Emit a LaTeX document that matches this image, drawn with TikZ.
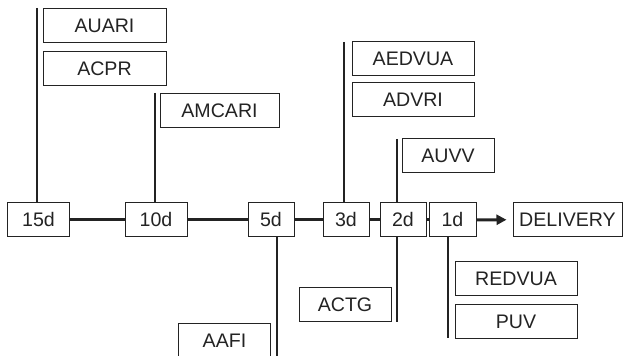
\documentclass[tikz,border=0pt]{standalone}
\usepackage{fontspec}
\setmainfont{Liberation Sans}
\usetikzlibrary{arrows.meta,positioning}
\definecolor{inkGray}{RGB}{35,35,35}

\begin{document}
\begin{tikzpicture}[
  x=0.5pt, y=-0.5pt,
  day/.style={rectangle, draw=inkGray, line width=0.5pt,
              minimum width=#1, minimum height=17pt, inner sep=0pt,
              text=inkGray, font=\fontsize{9.8}{12}\selectfont},
  task/.style={day=#1},
  timeline/.style={line width=1.5pt, inkGray},
  stem/.style={line width=0.7pt, inkGray},
  node distance=4pt
]
  \useasboundingbox (0,0) rectangle (623,356);
  \clip (0,0) rectangle (623,356);

  % Time axis
  \node[day=30.5pt] (d15) at (38.5,220) {15d};
  \node[day=31pt]   (d10) at (156,220)  {10d};
  \node[day=23pt]   (d5)  at (271,220)  {5d};
  \node[day=23pt]   (d3)  at (346,220)  {3d};
  \node[day=23pt]   (d2)  at (403,220)  {2d};
  \node[day=23.5pt] (d1)  at (452.5,220) {1d};
  \node[day=54.5pt] (dlv) at (567.5,219.5) {DELIVERY};

  \foreach \a/\b in {d15/d10, d10/d5, d5/d3, d3/d2, d2/d1}
    \draw[timeline] (\a) -- (\b);
  \draw[timeline, -{Triangle[length=5pt,width=5pt]}, shorten >=3pt]
    (d1) -- (dlv);

  % Tasks above the axis
  \node[task=61.5pt] (auari) at (104.5,25.5) {AUARI};
  \node[task=61.5pt, below=of auari] (acpr) {ACPR};
  \node[task=59.5pt] (amcari) at (219.5,110.5) {AMCARI};
  \node[task=61pt] (aedvua) at (413,59) {AEDVUA};
  \node[task=61pt, below=3pt of aedvua] (advri) {ADVRI};
  \node[task=46pt] (auvv) at (448,156) {AUVV};

  % Tasks below the axis
  \node[task=46pt] (aafi) at (224.5,341) {AAFI};
  \node[task=46pt] (actg) at (345,304.5) {ACTG};
  \node[task=61pt] (redvua) at (516,279) {REDVUA};
  \node[task=61pt, below=of redvua] (puv) {PUV};

  % Stems
  \coordinate (s15) at (37,8);
  \coordinate (s10) at (155,93);
  \coordinate (s3)  at (344,42);
  \coordinate (s2a) at (397,139);
  \coordinate (s5)  at (277,356);
  \coordinate (s2b) at (397,322);
  \coordinate (s1)  at (448,338);

  \foreach \s/\d in {s15/d15, s10/d10, s3/d3, s2a/d2}
    \draw[stem] (\s) -- (\s |- \d.north);
  \foreach \s/\d in {s5/d5, s2b/d2, s1/d1}
    \draw[stem] (\s |- \d.south) -- (\s);
\end{tikzpicture}
\end{document}
